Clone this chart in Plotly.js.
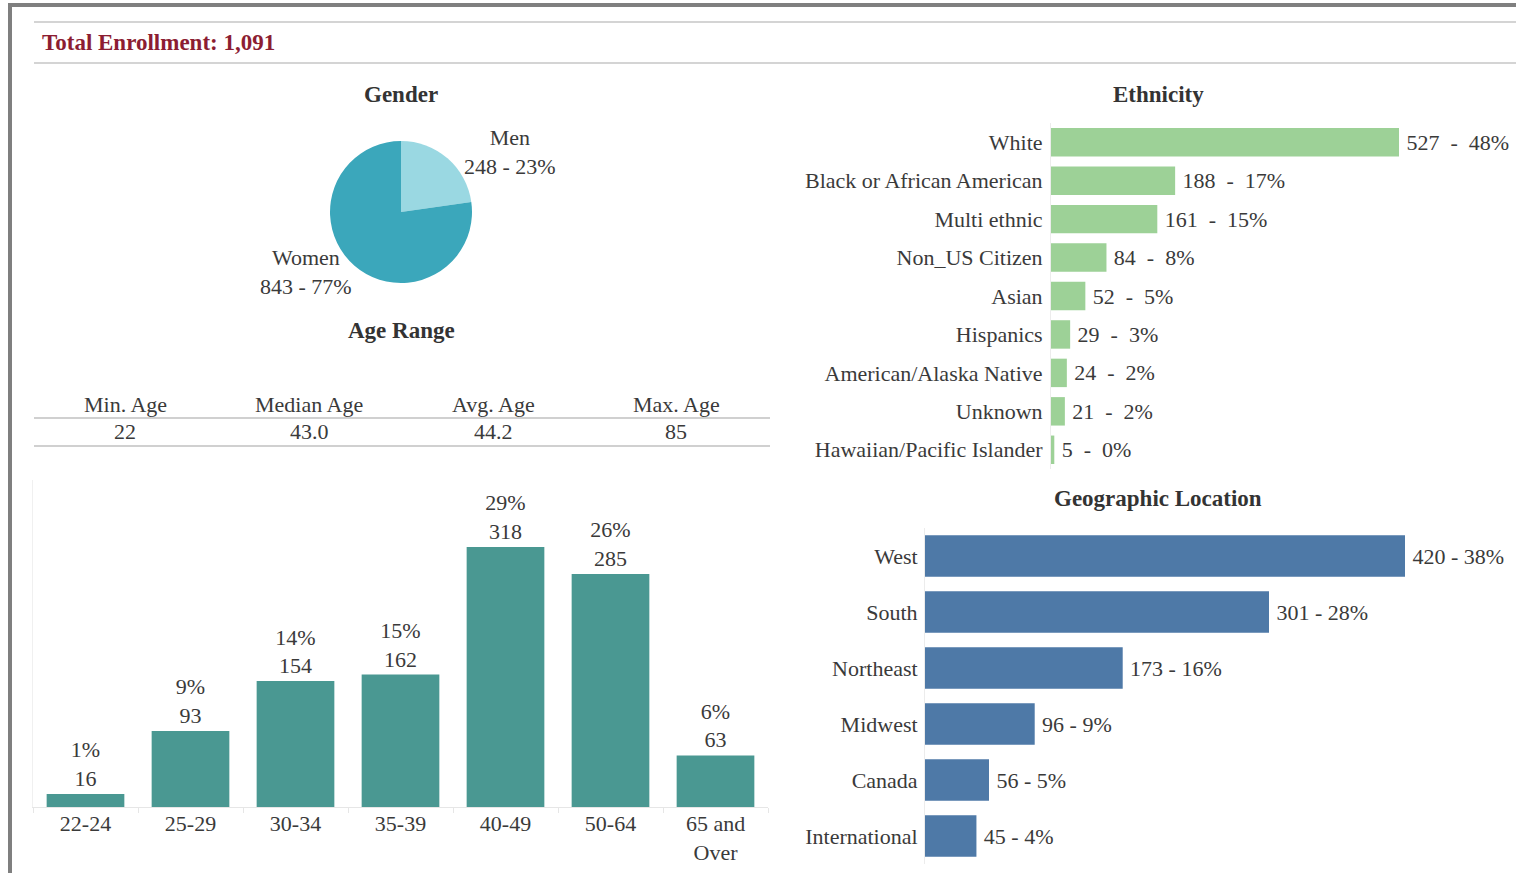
<!DOCTYPE html>
<html>
<head>
<meta charset="utf-8">
<script src="https://cdn.plot.ly/plotly-3.0.1.min.js"></script>
<style>
html,body{margin:0;padding:0;background:#fff;}
#chart{width:1516px;height:873px;}
</style>
</head>
<body>
<div id="chart"></div>
<script>
// ---------------- data ----------------
const totalEnrollment = 1091;

const genderLabels = ["Men", "Women"];
const genderValues = [248, 843];

const ageStatLabels = ["Min. Age", "Median Age", "Avg. Age", "Max. Age"];
const ageStatValues = ["22", "43.0", "44.2", "85"];

const ageRanges = ["22-24", "25-29", "30-34", "35-39", "40-49", "50-64", "65 and<br>Over"];
const ageCounts = [16, 93, 154, 162, 318, 285, 63];

const ethnicities = ["White", "Black or African American", "Multi ethnic", "Non_US Citizen", "Asian",
  "Hispanics", "American/Alaska Native", "Unknown", "Hawaiian/Pacific Islander"];
const ethnicityCounts = [527, 188, 161, 84, 52, 29, 24, 21, 5];

const regions = ["West", "South", "Northeast", "Midwest", "Canada", "International"];
const regionCounts = [420, 301, 173, 96, 56, 45];

// ---------------- helpers ----------------
const W = 1516, H = 873;
const px = v => v / W;
const py = v => 1 - v / H;
const pct = v => Math.round(v / totalEnrollment * 100) + "%";
const FONT = "Liberation Serif, Times New Roman, serif";
const TXT = "#3a3a3a";
const NB = "\u00a0";
const THIN = "\u2009";

const traces = [
  {
    type: "pie",
    labels: genderLabels,
    values: genderValues,
    sort: false,
    direction: "clockwise",
    rotation: 0,
    textinfo: "none",
    marker: { colors: ["#9ad8e2", "#3ba7bb"], line: { width: 0 } },
    domain: { x: [px(330), px(472)], y: [py(283), py(141)] },
    showlegend: false,
    hoverinfo: "skip"
  },
  {
    type: "bar",
    x: ageRanges,
    y: ageCounts,
    xaxis: "x", yaxis: "y",
    marker: { color: "#4a9892" },
    text: ageCounts.map(v => pct(v) + "<br>" + v),
    textposition: "outside",
    constraintext: "none",
    cliponaxis: false,
    textfont: { family: FONT, size: 22, color: TXT },
    hoverinfo: "skip",
    showlegend: false
  },
  {
    type: "bar",
    orientation: "h",
    y: ethnicities,
    x: ethnicityCounts,
    xaxis: "x2", yaxis: "y2",
    marker: { color: "#9dd197" },
    text: ethnicityCounts.map(v => THIN + v + NB + NB + "-" + NB + NB + pct(v)),
    textposition: "outside",
    constraintext: "none",
    cliponaxis: false,
    textfont: { family: FONT, size: 22, color: TXT },
    hoverinfo: "skip",
    showlegend: false
  },
  {
    type: "bar",
    orientation: "h",
    y: regions,
    x: regionCounts,
    xaxis: "x3", yaxis: "y3",
    marker: { color: "#4e79a7" },
    text: regionCounts.map(v => THIN + v + " - " + pct(v)),
    textposition: "outside",
    constraintext: "none",
    cliponaxis: false,
    textfont: { family: FONT, size: 22, color: TXT },
    hoverinfo: "skip",
    showlegend: false
  }
];

const hidden = { showgrid: false, zeroline: false, showticklabels: false, ticks: "", fixedrange: true, showline: false };

const annotations = [];
function addText(text, x, y, size, bold, color, xanchor) {
  annotations.push({
    text: bold ? "<b>" + text + "</b>" : text,
    x: px(x), y: py(y), xref: "paper", yref: "paper",
    xanchor: xanchor || "center", yanchor: "middle",
    showarrow: false,
    font: { family: FONT, size: size, color: color || TXT }
  });
}
addText("Total Enrollment: " + totalEnrollment.toLocaleString("en-US"), 40, 42, 23, true, "#8c1d32", "left");
addText("Gender", 401, 94, 23, true, "#333");
addText("Age Range", 401, 330, 23, true, "#333");
addText("Ethnicity", 1158, 94, 23, true, "#333");
addText("Geographic Location", 1158, 498, 23, true, "#333");
addText(genderLabels[0] + "<br>" + genderValues[0] + " - " + pct(genderValues[0]), 510, 152, 22);
addText(genderLabels[1] + "<br>" + genderValues[1] + " - " + pct(genderValues[1]), 306, 272, 22);
const statX = [125, 309, 493, 676];
ageStatLabels.forEach((l, i) => {
  addText(l, statX[i], 404, 22);
  addText(ageStatValues[i], statX[i], 431, 22);
});

const shapes = [
  { type: "line", xref: "paper", yref: "paper", x0: px(8), x1: 1, y0: py(5), y1: py(5), line: { color: "#7f7f7f", width: 4 } },
  { type: "line", xref: "paper", yref: "paper", x0: px(10), x1: px(10), y0: py(3), y1: 0, line: { color: "#7f7f7f", width: 4 } },
  { type: "line", xref: "paper", yref: "paper", x0: px(34), x1: 1, y0: py(22), y1: py(22), line: { color: "#d4d4d4", width: 2 } },
  { type: "line", xref: "paper", yref: "paper", x0: px(34), x1: 1, y0: py(63), y1: py(63), line: { color: "#d4d4d4", width: 2 } },
  { type: "line", xref: "paper", yref: "paper", x0: px(34), x1: px(770), y0: py(418), y1: py(418), line: { color: "#d0d0d0", width: 2 } },
  { type: "line", xref: "paper", yref: "paper", x0: px(34), x1: px(770), y0: py(446), y1: py(446), line: { color: "#d0d0d0", width: 2 } }
];

const layout = {
  width: W, height: H,
  margin: { l: 0, r: 0, t: 0, b: 0 },
  paper_bgcolor: "#fff", plot_bgcolor: "rgba(0,0,0,0)",
  font: { family: FONT, size: 22, color: TXT },
  showlegend: false,
  hovermode: false,
  bargap: 0.26,
  xaxis: {
    domain: [px(33), px(768)], anchor: "y",
    type: "category",
    showgrid: false, zeroline: false,
    showline: true, linecolor: "#e6e6e6", linewidth: 1,
    ticks: "outside", tickson: "boundaries", ticklen: 5, tickcolor: "#e6e6e6",
    tickfont: { family: FONT, size: 22, color: TXT },
    ticklabelstandoff: -3,
    fixedrange: true
  },
  yaxis: Object.assign({}, hidden, {
    domain: [py(807), py(480)], anchor: "x",
    range: [0, 400],
    showline: true, linecolor: "#f0f0f0", linewidth: 1
  }),
  xaxis2: Object.assign({}, hidden, {
    domain: [px(1051), 1], anchor: "y2",
    range: [0, 527 * 465 / 348]
  }),
  yaxis2: {
    domain: [py(469), py(123)], anchor: "x2",
    type: "category", autorange: "reversed",
    showgrid: false, zeroline: false,
    showline: true, linecolor: "#ececec", linewidth: 1,
    ticks: "",
    tickfont: { family: FONT, size: 22, color: TXT },
    ticklabelstandoff: 3,
    fixedrange: true
  },
  xaxis3: Object.assign({}, hidden, {
    domain: [px(925), 1], anchor: "y3",
    range: [0, 420 * 591 / 480]
  }),
  yaxis3: {
    domain: [py(864), py(528)], anchor: "x3",
    type: "category", autorange: "reversed",
    showgrid: false, zeroline: false,
    showline: true, linecolor: "#ececec", linewidth: 1,
    ticks: "",
    tickfont: { family: FONT, size: 22, color: TXT },
    ticklabelstandoff: 2,
    fixedrange: true
  },
  annotations: annotations,
  shapes: shapes
};

Plotly.newPlot("chart", traces, layout, { displayModeBar: false, staticPlot: true });
</script>
</body>
</html>
